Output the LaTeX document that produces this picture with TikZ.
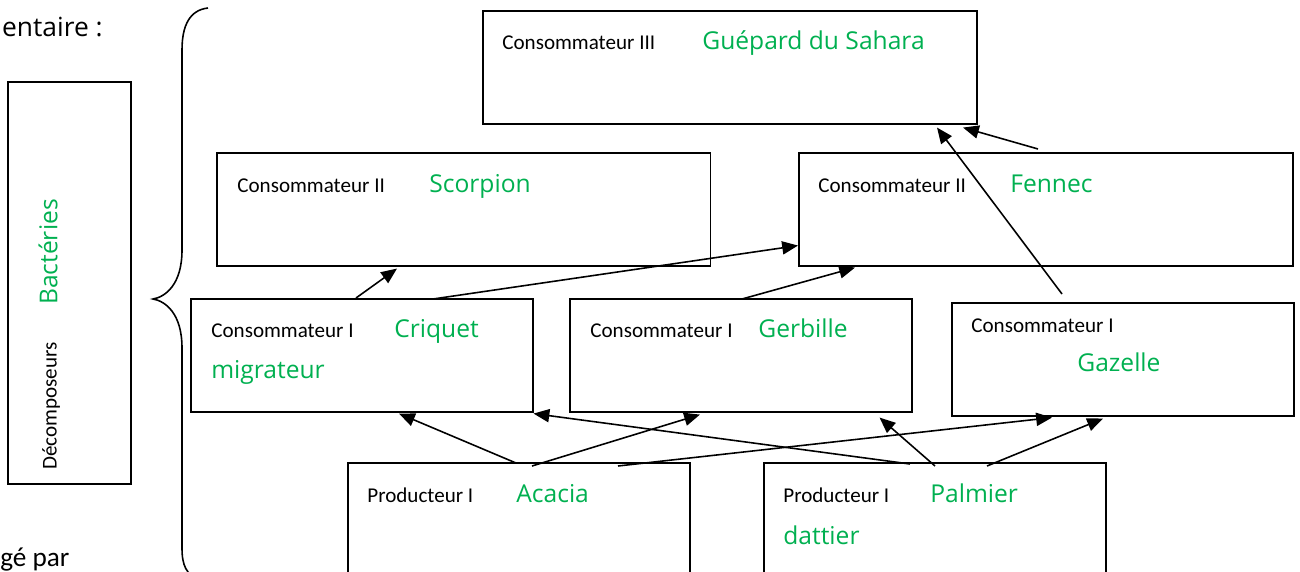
\documentclass[tikz,border=0pt]{standalone}
\usepackage{fontspec}
\setmainfont{Carlito}
\newfontfamily\comic{Open Sans}
\usetikzlibrary{arrows.meta,calc}

\definecolor{vert}{RGB}{0,176,80}

\tikzset{
    boite/.style={draw, line width=0.9pt, inner sep=0pt, anchor=north west, minimum height=2.26cm},
    large/.style={boite, minimum width=9.88cm},
    etroite/.style={boite, minimum width=6.84cm},
    niveau/.style={font=\fontsize{12}{14}\selectfont, anchor=base west, inner sep=0pt},
    espece/.style={font=\comic\fontsize{14}{16}\selectfont, text=vert, anchor=base west, inner sep=0pt},
    fleche/.style={line width=0.9pt, -{Triangle[length=9pt,width=7.5pt]}}
}

\begin{document}
\begin{tikzpicture}[x=0.02cm, y=-0.02cm]
    \useasboundingbox (0,0) rectangle (1300,571);

    % Left margin texts
    \node[font=\comic\fontsize{15}{17}\selectfont, anchor=base east, inner sep=0pt] (titre) at (103,37) {entaire :};
    \node[font=\fontsize{15.5}{18}\selectfont, anchor=base west, inner sep=0pt] (suite) at (0,566) {gé par};

    % Decomposers
    \node[boite, minimum width=2.46cm, minimum height=8.04cm] (dec) at (7,81) {};
    \node[espece, anchor=center, rotate=90] (bac) at (48,252) {Bactéries};
    \node[niveau, anchor=center, rotate=90] (decl) at (51,406) {Décomposeurs};

    % Brace
    \draw[line width=0.9pt] (208,8) .. controls (190,10) and (182,25) .. (182,50)
        -- (182,250) .. controls (182,285) and (165,297) .. (153,299)
        .. controls (165,301) and (182,313) .. (182,348)
        -- (182,548) .. controls (182,565) and (186,575) .. (200,580);

    % Boxes
    \node[large] (gue) at (482,10) {};
    \node[large] (sco) at (216,152) {};
    \node[large] (fen) at (798,152) {};
    \node[etroite] (cri) at (190,298) {};
    \node[etroite] (ger) at (569,298) {};
    \node[etroite] (gaz) at (951,302) {};
    \node[etroite] (aca) at (347,462) {};
    \node[etroite] (pal) at (763,462) {};

    % Labels
    \node[niveau] (gueN) at ($(gue.north west)+(20,40)$) {Consommateur III};
    \node[espece] (gueE) at ($(gue.north west)+(220,40)$) {Guépard du Sahara};
    \node[niveau] (scoN) at ($(sco.north west)+(21,40)$) {Consommateur II};
    \node[espece] (scoE) at ($(sco.north west)+(213,40)$) {Scorpion};
    \node[niveau] (fenN) at ($(fen.north west)+(20,40)$) {Consommateur II};
    \node[espece] (fenE) at ($(fen.north west)+(212,40)$) {Fennec};
    \node[niveau] (criN) at ($(cri.north west)+(21,39)$) {Consommateur I};
    \node[espece] (criE) at ($(cri.north west)+(204,39)$) {Criquet};
    \node[espece] (criF) at ($(cri.north west)+(21,80)$) {migrateur};
    \node[niveau] (gerN) at ($(ger.north west)+(21,39)$) {Consommateur I};
    \node[espece] (gerE) at ($(ger.north west)+(189,39)$) {Gerbille};
    \node[niveau] (gazN) at ($(gaz.north west)+(20,30)$) {Consommateur I};
    \node[espece] (gazE) at ($(gaz.north west)+(126,69)$) {Gazelle};
    \node[niveau] (acaN) at ($(aca.north west)+(20,40)$) {Producteur I};
    \node[espece] (acaE) at ($(aca.north west)+(169,40)$) {Acacia};
    \node[niveau] (palN) at ($(pal.north west)+(20,40)$) {Producteur I};
    \node[espece] (palE) at ($(pal.north west)+(167,40)$) {Palmier};
    \node[espece] (palF) at ($(pal.north west)+(20,82)$) {dattier};

    % Arrows
    \draw[fleche] ($(cri.north west)+(166,0)$) -- ($(sco.south west)+(181,2)$);
    \draw[fleche] ($(cri.north west)+(243,1)$) -- ($(fen.south west)+(0,-21)$);
    \draw[fleche] ($(ger.north west)+(173,1)$) -- ($(fen.south west)+(57,1)$);
    \draw[fleche] ($(gaz.north west)+(111,-8)$) -- ($(gue.south west)+(455,3)$);
    \draw[fleche] ($(fen.north west)+(240,-3)$) -- ($(gue.south west)+(481,3)$);
    \draw[fleche] ($(aca.north west)+(169,1)$) -- ($(cri.south west)+(209,1)$);
    \draw[fleche] ($(aca.north west)+(185,4)$) -- ($(ger.south west)+(131,2)$);
    \draw[fleche] ($(aca.north west)+(271,4)$) -- ($(gaz.south west)+(101,1)$);
    \draw[fleche] ($(pal.north west)+(147,2)$) -- ($(cri.south east)+(0,1)$);
    \draw[fleche] ($(pal.north west)+(172,4)$) -- ($(ger.south east)+(-33,5)$);
    \draw[fleche] ($(pal.north west)+(224,4)$) -- ($(gaz.south west)+(152,2)$);
\end{tikzpicture}
\end{document}
